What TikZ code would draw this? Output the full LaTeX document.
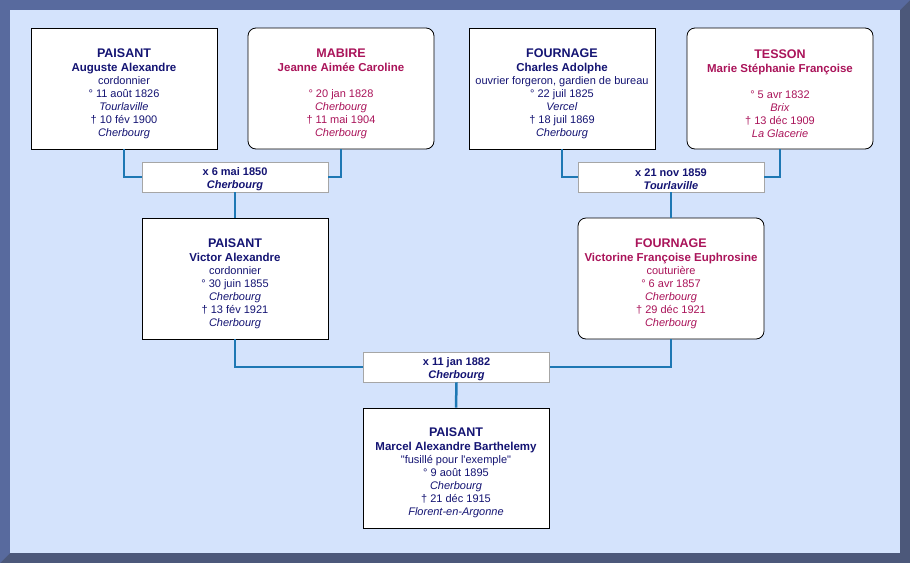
\documentclass[tikz,border=0pt]{standalone}
\usepackage{fontspec}
\setmainfont{Liberation Sans}[Ligatures=TeXOff]
\definecolor{darknavy}{RGB}{20,20,115}
\definecolor{darkrose}{RGB}{170,20,90}
\definecolor{linkblue}{RGB}{30,120,180}
\definecolor{paleblue}{RGB}{212,227,252}
\definecolor{frametop}{RGB}{88,106,158}
\definecolor{framebot}{RGB}{76,88,122}
\newcommand{\famname}[1]{\rule{0pt}{19pt}{\fontsize{12.5}{13}\selectfont\bfseries #1}\\[1pt]}
\newcommand{\givname}[1]{{\fontsize{11.5}{13}\selectfont\bfseries #1}}

\begin{document}
\begin{tikzpicture}[x=1pt, y=-1pt]
    \tikzstyle{man_style} = [draw=black, line width=0.8pt, fill=white, minimum width=186pt, minimum height=121pt, align=center, text=darknavy, font=\fontsize{11}{13}\selectfont, inner sep=0pt]
    \tikzstyle{woman_style} = [man_style, rounded corners=8pt, text=darkrose]
    \tikzstyle{union_style} = [draw=gray!70, line width=0.8pt, fill=white, minimum width=186pt, minimum height=30pt, align=center, text=darknavy, font=\fontsize{11}{13}\selectfont\bfseries, inner sep=0pt]
    \tikzstyle{link_style} = [linkblue, line width=2.5pt]

    \useasboundingbox (0,0) rectangle (910,563);

    % frame
    \fill[framebot] (0,0) rectangle (910,563);
    \fill[frametop] (0,0) -- (910,0) -- (900,10) -- (10,10) -- (10,553) -- (0,563) -- cycle;
    \fill[paleblue] (10,10) rectangle (900,553);

    % grandparents
    \node[man_style] (auguste) at (124,88.5) {\famname{PAISANT} \givname{Auguste Alexandre}\\ cordonnier\\ ° 11 août 1826\\ \textit{Tourlaville}\\ † 10 fév 1900\\ \textit{Cherbourg}};
    \node[woman_style] (jeanne) at (341,88.5) {\famname{MABIRE} \givname{Jeanne Aimée Caroline}\\ \mbox{}\\ ° 20 jan 1828\\ \textit{Cherbourg}\\ † 11 mai 1904\\ \textit{Cherbourg}};
    \node[man_style] (charles) at (562,88.5) {\famname{FOURNAGE} \givname{Charles Adolphe}\\ ouvrier forgeron, gardien de bureau\\ ° 22 juil 1825\\ \textit{Vercel}\\ † 18 juil 1869\\ \textit{Cherbourg}};
    \node[woman_style] (marie) at (780,88.5) {\famname{TESSON} \givname{Marie Stéphanie Françoise}\\ \mbox{}\\ ° 5 avr 1832\\ \textit{Brix}\\ † 13 déc 1909\\ \textit{La Glacerie}};

    \node[union_style] (union_a) at (235,177) {\rule{0pt}{12pt}x 6 mai 1850\\ \textit{Cherbourg}};
    \node[union_style] (union_b) at (671,177) {\rule{0pt}{12pt}x 21 nov 1859\\ \textit{Tourlaville}};

    % parents
    \node[man_style] (victor) at (235,278.5) {\famname{PAISANT} \givname{Victor Alexandre}\\ cordonnier\\ ° 30 juin 1855\\ \textit{Cherbourg}\\ † 13 fév 1921\\ \textit{Cherbourg}};
    \node[woman_style] (victorine) at (671,278.5) {\famname{FOURNAGE} \givname{Victorine Françoise Euphrosine}\\ couturière\\ ° 6 avr 1857\\ \textit{Cherbourg}\\ † 29 déc 1921\\ \textit{Cherbourg}};

    \node[union_style] (union_c) at (456.5,367) {\rule{0pt}{12pt}x 11 jan 1882\\ \textit{Cherbourg}};

    % child
    \node[man_style, minimum height=120pt] (marcel) at (456,468) {\famname{PAISANT} \givname{Marcel Alexandre Barthelemy}\\ "fusillé pour l'exemple"\\ ° 9 août 1895\\ \textit{Cherbourg}\\ † 21 déc 1915\\ \textit{Florent-en-Argonne}};

    % links
    \draw[link_style] (auguste.south) |- (union_a.west);
    \draw[link_style] (jeanne.south) |- (union_a.east);
    \draw[link_style] (union_a.south) -- (victor.north);
    \draw[link_style] (charles.south) |- (union_b.west);
    \draw[link_style] (marie.south) |- (union_b.east);
    \draw[link_style] (union_b.south) -- (victorine.north);
    \draw[link_style] (victor.south) |- (union_c.west);
    \draw[link_style] (victorine.south) |- (union_c.east);
    \draw[link_style] (union_c.south) -- (marcel.north);

\end{tikzpicture}
\end{document}
